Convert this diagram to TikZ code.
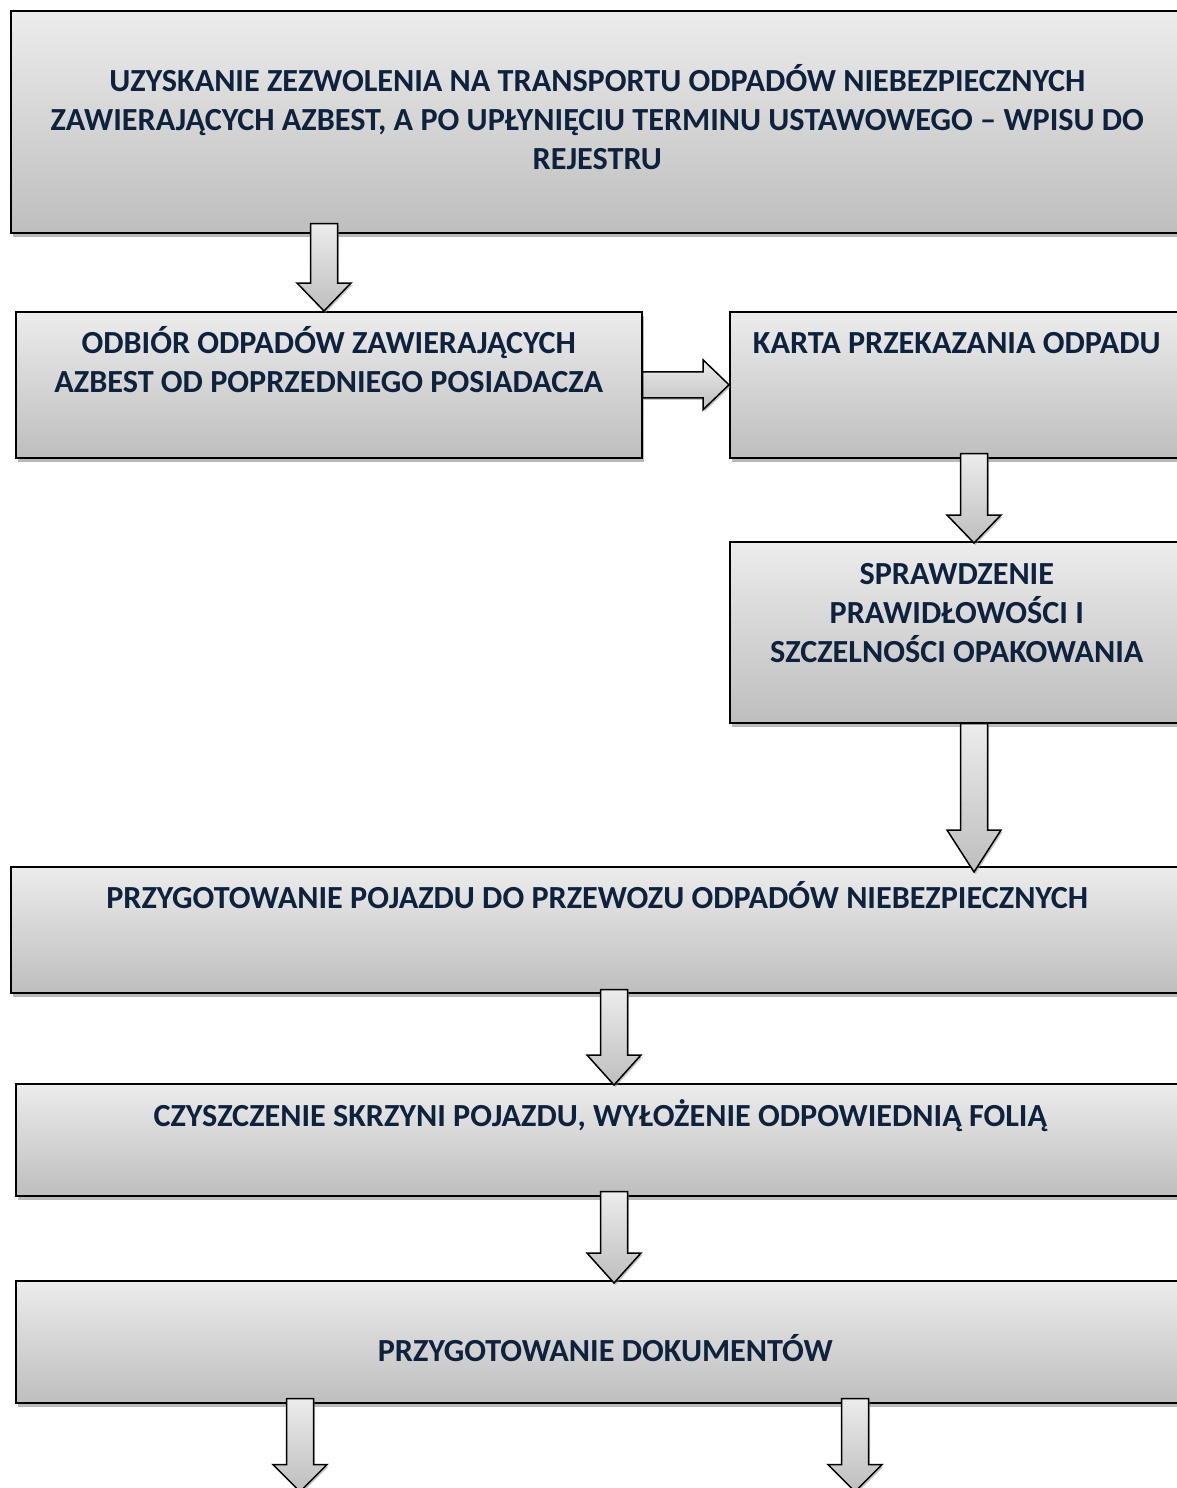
\documentclass[tikz,border=0pt]{standalone}
\usepackage{fontspec}
\setmainfont{Carlito}
\usetikzlibrary{calc,shadows}

\definecolor{navytxt}{RGB}{14,34,62}
\definecolor{toplight}{RGB}{236,236,236}
\definecolor{botdark}{RGB}{190,190,190}

\tikzset{
  stepbox/.style={draw=black, line width=1.6pt, top color=toplight, bottom color=botdark,
    drop shadow={shadow xshift=2pt, shadow yshift=-4pt, fill=black!55},
    anchor=north west, inner sep=0pt},
  steptxt/.style={anchor=base, align=center, text=navytxt, inner sep=0pt,
    font=\fontsize{32.2}{39}\selectfont\bfseries},
  blockarr/.style={draw=black, line width=1.5pt, line join=miter, top color=toplight, bottom color=botdark,
    drop shadow={shadow xshift=1.5pt, shadow yshift=-2pt, fill=black!45}}
}

% block arrow pointing down: start, tip, head length
\newcommand{\downblock}[3]{%
  \draw[blockarr] let \p1=(#1), \p2=(#2) in
    (\x1-13.5pt,\y1) -- (\x1+13.5pt,\y1) -- (\x1+13.5pt,\y2+#3) -- (\x1+27pt,\y2+#3)
    -- (\x1,\y2) -- (\x1-27pt,\y2+#3) -- (\x1-13.5pt,\y2+#3) -- cycle;}
% block arrow pointing right: start, tip, head length
\newcommand{\rightblock}[3]{%
  \draw[blockarr] let \p1=(#1), \p2=(#2) in
    (\x1,\y1+13pt) -- (\x2-#3,\y1+13pt) -- (\x2-#3,\y1+25pt) -- (\x2,\y1)
    -- (\x2-#3,\y1-25pt) -- (\x2-#3,\y1-13pt) -- (\x1,\y1-13pt) -- cycle;}

\begin{document}
\begin{tikzpicture}[x=1pt,y=-1pt]
\useasboundingbox (0,0) rectangle (1177,1488);

\node[stepbox, minimum width=1173pt, minimum height=222pt] (uzysk) at (10,10) {};
\node[stepbox, minimum width=626pt, minimum height=146pt] (odbior) at (15,311) {};
\node[stepbox, minimum width=454pt, minimum height=146pt] (karta) at (729,311) {};
\node[stepbox, minimum width=454pt, minimum height=181pt] (sprawdz) at (729,541) {};
\node[stepbox, minimum width=1173pt, minimum height=126pt] (pojazd) at (10,866) {};
\node[stepbox, minimum width=1169pt, minimum height=112pt] (skrzynia) at (15,1083) {};
\node[stepbox, minimum width=1179pt, minimum height=122pt] (dokum) at (15,1280) {};

% anchor base sits on the last line
\node[steptxt] (uzysk-t) at ($(uzysk.north)+(0,159.5)$)
  {UZYSKANIE ZEZWOLENIA NA TRANSPORTU ODPADÓW NIEBEZPIECZNYCH\\
   ZAWIERAJĄCYCH AZBEST, A PO UPŁYNIĘCIU TERMINU USTAWOWEGO – WPISU DO\\
   REJESTRU};
\node[steptxt] (odbior-t) at ($(odbior.north)+(0,81)$)
  {ODBIÓR ODPADÓW ZAWIERAJĄCYCH\\ AZBEST OD POPRZEDNIEGO POSIADACZA};
\node[steptxt] (karta-t) at ($(karta.north)+(0,42)$) {KARTA PRZEKAZANIA ODPADU};
\node[steptxt] (sprawdz-t) at ($(sprawdz.north)+(0,121)$)
  {SPRAWDZENIE\\ PRAWIDŁOWOŚCI I\\ SZCZELNOŚCI OPAKOWANIA};
\node[steptxt] (pojazd-t) at ($(pojazd.north)+(0,42)$)
  {PRZYGOTOWANIE POJAZDU DO PRZEWOZU ODPADÓW NIEBEZPIECZNYCH};
\node[steptxt] (skrzynia-t) at ($(skrzynia.north)+(0,43)$)
  {CZYSZCZENIE SKRZYNI POJAZDU, WYŁOŻENIE ODPOWIEDNIĄ FOLIĄ};
\node[steptxt] (dokum-t) at ($(dokum.north)+(0,81)$) {PRZYGOTOWANIE DOKUMENTÓW};

\coordinate (a1) at ($(uzysk.south west)+(314,-10)$);
\coordinate (a3) at ($(karta.south west)+(245,-5)$);
\coordinate (a5) at ($(pojazd.south west)+(604,-4)$);
\coordinate (a6) at ($(skrzynia.south west)+(599,-5)$);
\coordinate (a7) at ($(dokum.south west)+(285,-5)$);
\coordinate (a8) at ($(dokum.south west)+(840,-5)$);

\downblock{a1}{a1 |- odbior.north}{28pt}
\rightblock{odbior.east}{karta.west}{26pt}
\downblock{a3}{$(a3 |- sprawdz.north)+(0,2)$}{28pt}
\downblock{a3 |- sprawdz.south}{$(a3 |- pojazd.north)+(0,6)$}{42pt}
\downblock{a5}{$(a5 |- skrzynia.north)+(0,2)$}{30pt}
\downblock{a6}{$(a6 |- dokum.north)+(0,3)$}{30pt}
\downblock{a7}{$(a7)+(0,93)$}{27pt}
\downblock{a8}{$(a8)+(0,93)$}{27pt}

\end{tikzpicture}
\end{document}
